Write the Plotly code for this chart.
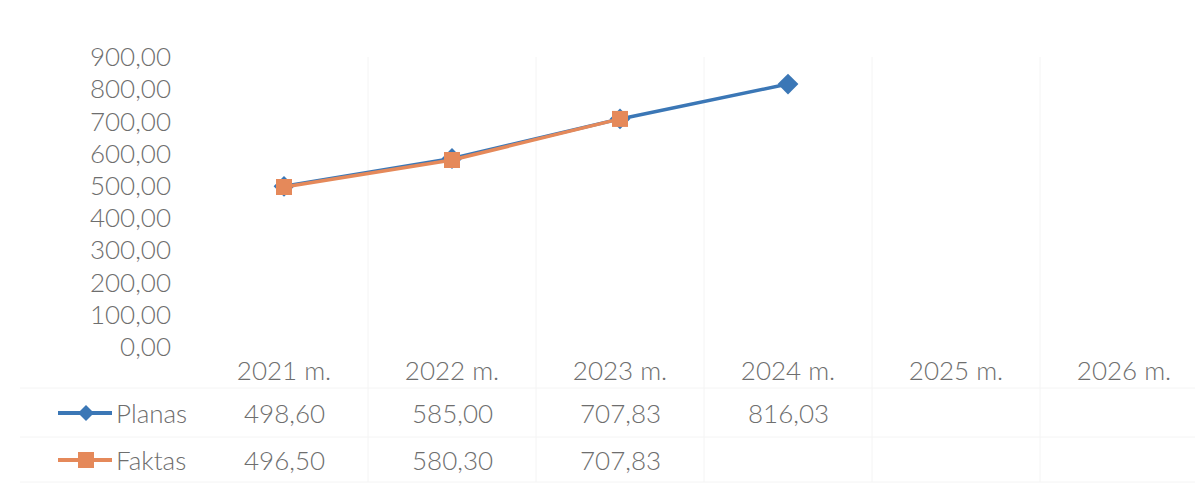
import plotly.graph_objects as go

categories = ["2021 m.", "2022 m.", "2023 m.", "2024 m.", "2025 m.", "2026 m."]
planas = [498.60, 585.00, 707.83, 816.03, None, None]
faktas = [496.50, 580.30, 707.83, None, None, None]
series_names = ["Planas", "Faktas"]
y_ticks = [0, 100, 200, 300, 400, 500, 600, 700, 800, 900]

BLUE = "#3b77b6"
ORANGE = "#e5895a"
GRAY = "#6e6e6e"
FONT = "Lato"
FS = 26
FW = 300

W, H = 1195, 486
L, R, T, B = 200, 0, 57, 139
PW = W - L - R
PH = H - T - B

def px_x(px):
    return (px - L) / PW

def px_y(py):
    return (H - B - py) / PH

xi = list(range(len(categories)))
tf = dict(family=FONT, size=FS, color=GRAY, weight=FW)

fig = go.Figure()
fig.add_trace(go.Scatter(
    x=xi, y=planas, mode="lines+markers", name=series_names[0],
    line=dict(color=BLUE, width=3.5),
    marker=dict(symbol="diamond", size=16, color=BLUE),
    cliponaxis=False, showlegend=False))
fig.add_trace(go.Scatter(
    x=xi, y=faktas, mode="lines+markers", name=series_names[1],
    line=dict(color=ORANGE, width=3.5),
    marker=dict(symbol="square", size=16, color=ORANGE),
    cliponaxis=False, showlegend=False))

annotations = []
shapes = []

# data table rows
row_py = [413, 460]
for r, (vals, col, sym) in enumerate([(planas, BLUE, "diamond"), (faktas, ORANGE, "square")]):
    yp = px_y(row_py[r])
    for i, v in enumerate(vals):
        if v is None:
            continue
        annotations.append(dict(
            x=i, y=yp, xref="x", yref="paper", text=f"{v:.2f}".replace(".", ","),
            showarrow=False, font=tf, xanchor="center", yanchor="middle"))
    annotations.append(dict(
        x=px_x(114), y=yp, xref="paper", yref="paper", text=series_names[r],
        showarrow=False, font=tf, xanchor="left", yanchor="middle"))
    shapes.append(dict(type="line", xref="paper", yref="paper",
                       x0=px_x(58), x1=px_x(112), y0=yp, y1=yp,
                       line=dict(color=col, width=4)))
    cx, cy = 86, row_py[r]
    d = 8
    if sym == "diamond":
        path = (f"M {px_x(cx)},{px_y(cy - d)} L {px_x(cx + d)},{px_y(cy)} "
                f"L {px_x(cx)},{px_y(cy + d)} L {px_x(cx - d)},{px_y(cy)} Z")
    else:
        path = (f"M {px_x(cx - d)},{px_y(cy - d)} L {px_x(cx + d)},{px_y(cy - d)} "
                f"L {px_x(cx + d)},{px_y(cy + d)} L {px_x(cx - d)},{px_y(cy + d)} Z")
    shapes.append(dict(type="path", xref="paper", yref="paper", path=path,
                       fillcolor=col, line=dict(color=col, width=0)))

# faint table / category boundary lines
for k in range(len(categories) - 1):
    shapes.append(dict(type="line", xref="x", yref="paper",
                       x0=k + 0.5, x1=k + 0.5, y0=px_y(482), y1=1,
                       line=dict(color="#f4f4f4", width=1), layer="below"))
for py in [388, 437, 482]:
    shapes.append(dict(type="line", xref="paper", yref="paper",
                       x0=px_x(20), x1=1, y0=px_y(py), y1=px_y(py),
                       line=dict(color="#f4f4f4", width=1), layer="below"))

fig.update_layout(
    width=W, height=H,
    margin=dict(l=L, r=R, t=T, b=B),
    paper_bgcolor="white", plot_bgcolor="white",
    separators=", ",
    font=tf,
    xaxis=dict(range=[-0.5, (W - 284) / 168], tickmode="array", tickvals=xi,
               ticktext=categories, showgrid=False, zeroline=False,
               showline=False, ticks="", ticklabelstandoff=6, tickfont=tf),
    yaxis=dict(range=[0, 900], tickmode="array", tickvals=y_ticks,
               tickformat=".2f", showgrid=False, zeroline=False,
               showline=False, ticks="", ticklabelstandoff=28, tickfont=tf),
    annotations=annotations, shapes=shapes,
)

fig.write_html("out.html", config={"displayModeBar": False},
               post_script="document.body.style.margin='0';")
